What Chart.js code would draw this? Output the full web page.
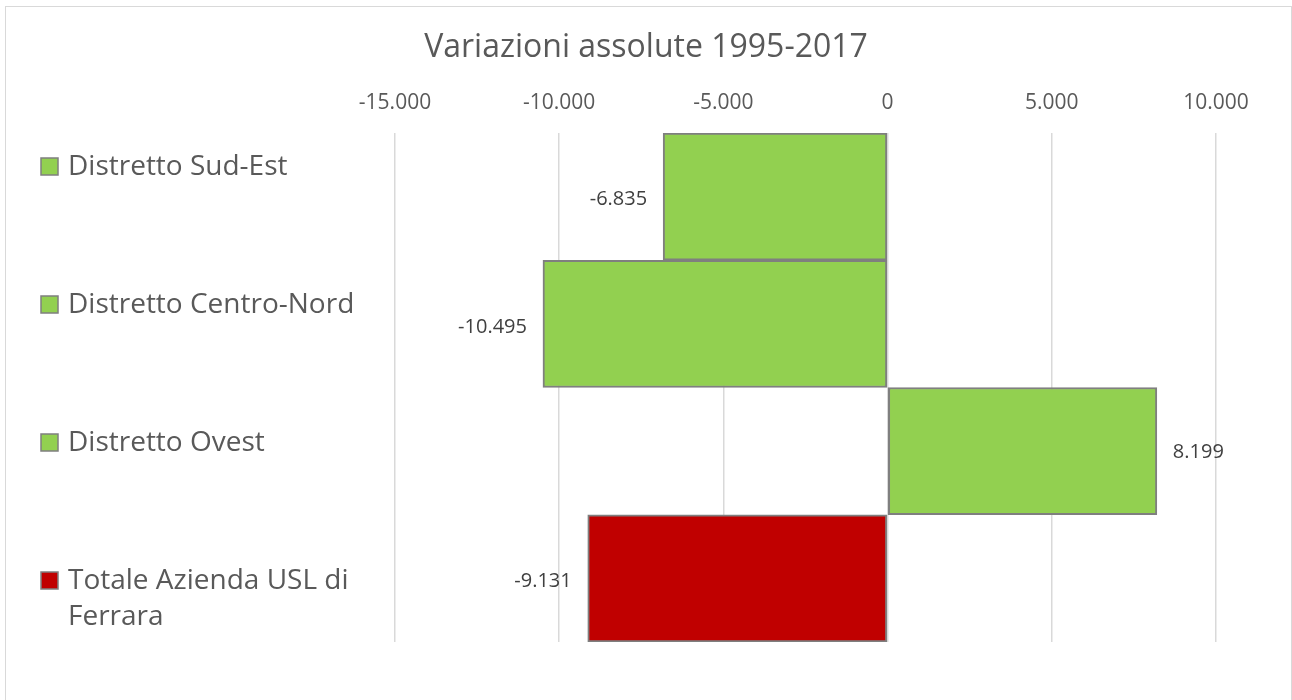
<!DOCTYPE html>
<html>
<head>
<meta charset="utf-8">
<script src="https://cdn.jsdelivr.net/npm/chart.js@4/dist/chart.umd.min.js"></script>
<style>
	html, body { margin: 0; padding: 0; background: #fff; }
	#wrap { position: relative; width: 1292px; height: 700px; overflow: hidden; }
	#frame { position: absolute; left: 5px; top: 6px; width: 1287px; height: 710px; border: 1.5px solid #d9d9d9; box-sizing: border-box; pointer-events: none; }
	canvas { position: absolute; left: 0; top: 0; }
</style>
</head>
<body>
<div id="wrap">
	<canvas id="chart" width="1292" height="700"></canvas>
	<div id="frame"></div>
</div>
<script>
const categories = ['Distretto Sud-Est', 'Distretto Centro-Nord', 'Distretto Ovest', 'Totale Azienda USL di Ferrara'];
const values = [-6835, -10495, 8199, -9131];
const barColors = ['#92d050', '#92d050', '#92d050', '#c00000'];
const axisMin = -15000;
const axisMax = 10000;
const axisStep = 5000;
const chartTitle = 'Variazioni assolute 1995-2017';

const FONT = '"Open Sans", "Noto Sans", sans-serif';

// Italian number format: 10.495
function fmt(v) {
	const s = Math.abs(v).toString().replace(/\B(?=(\d{3})+(?!\d))/g, '.');
	return (v < 0 ? '-' : '') + s;
}

// title centred on the whole canvas, not the plot
const canvasTitle = {
	id: 'canvasTitle',
	afterDraw(chart) {
		const ctx = chart.ctx;
		ctx.save();
		ctx.font = '32px ' + FONT;
		ctx.fillStyle = '#595959';
		ctx.textAlign = 'center';
		ctx.textBaseline = 'middle';
		ctx.fillText(chartTitle, chart.width / 2, 48);
		ctx.restore();
	}
};

// value labels outside the bar ends
const valueLabels = {
	id: 'valueLabels',
	afterDatasetsDraw(chart) {
		const ctx = chart.ctx;
		const meta = chart.getDatasetMeta(0);
		ctx.save();
		ctx.font = '20px ' + FONT;
		ctx.fillStyle = '#404040';
		ctx.textBaseline = 'middle';
		meta.data.forEach((bar, i) => {
			const v = values[i];
			if (v < 0) {
				ctx.textAlign = 'right';
				ctx.fillText(fmt(v), bar.x - 16, bar.y + 3);
			} else {
				ctx.textAlign = 'left';
				ctx.fillText(fmt(v), bar.x + 16, bar.y + 1);
			}
		});
		ctx.restore();
	}
};

// legend-like category list on the left
const sideLegend = {
	id: 'sideLegend',
	afterDraw(chart) {
		const ctx = chart.ctx;
		ctx.save();
		ctx.font = '28px ' + FONT;
		ctx.textBaseline = 'middle';
		ctx.textAlign = 'left';
		let y = 167;
		categories.forEach((cat, i) => {
			ctx.fillStyle = barColors[i];
			ctx.fillRect(41, y - 9, 17, 17);
			ctx.strokeStyle = '#7f7f7f';
			ctx.lineWidth = 1.5;
			ctx.strokeRect(41, y - 9, 17, 17);
			// simple word wrap
			const words = cat.split(' ');
			const lines = [];
			let line = '';
			words.forEach(w => {
				const test = line ? line + ' ' + w : w;
				if (ctx.measureText(test).width > 315 && line) {
					lines.push(line);
					line = w;
				} else {
					line = test;
				}
			});
			lines.push(line);
			ctx.fillStyle = '#595959';
			lines.forEach((l, j) => ctx.fillText(l, 68, y + j * 36));
			y += 138;
		});
		ctx.restore();
	}
};

new Chart(document.getElementById('chart'), {
	type: 'bar',
	data: {
		labels: categories,
		datasets: [{
			data: values,
			backgroundColor: barColors,
			borderColor: '#7f7f7f',
			borderWidth: 2,
			borderSkipped: false,
			categoryPercentage: 1,
			barPercentage: 1
		}]
	},
	options: {
		indexAxis: 'y',
		responsive: false,
		animation: false,
		layout: {
			padding: { left: 395, right: 76, bottom: 58, top: 91 }
		},
		plugins: {
			legend: { display: false },
			tooltip: { enabled: false },
			title: { display: false }
		},
		scales: {
			x: {
				position: 'top',
				min: axisMin,
				max: axisMax,
				ticks: {
					stepSize: axisStep,
					padding: 18,
					color: '#595959',
					font: { family: FONT, size: 21, lineHeight: 1.15 },
					callback: v => fmt(v)
				},
				grid: {
					color: '#d9d9d9',
					lineWidth: 1.5,
					drawTicks: false
				},
				border: { display: false },
				afterFit: scale => { scale.height = 42; }
			},
			y: {
				display: false
			}
		}
	},
	plugins: [valueLabels, sideLegend, canvasTitle]
});
</script>
</body>
</html>
